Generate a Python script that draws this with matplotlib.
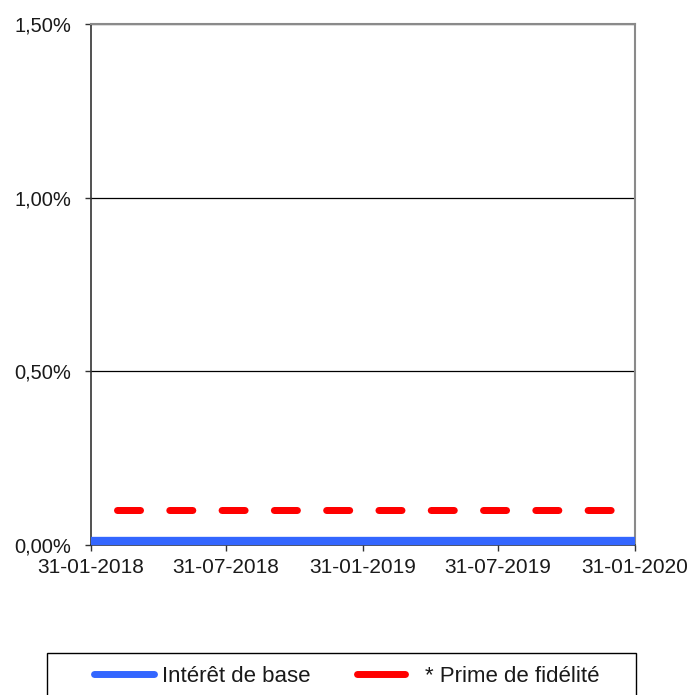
import matplotlib
matplotlib.use("Agg")
import matplotlib.pyplot as plt
import matplotlib.dates as mdates
from matplotlib.ticker import FuncFormatter
from matplotlib.lines import Line2D
from matplotlib.patches import Rectangle
import datetime as dt

plt.rcParams['font.family'] = ['Liberation Sans', 'DejaVu Sans']

base_dates = [dt.date(2018, 1, 31), dt.date(2020, 1, 31)]
base_values = [0.01, 0.01]
prime_dates = [dt.date(2018, 3, 7), dt.date(2019, 12, 31)]
prime_values = [0.10, 0.10]
xticks = [dt.date(2018, 1, 31), dt.date(2018, 7, 31), dt.date(2019, 1, 31),
          dt.date(2019, 7, 31), dt.date(2020, 1, 31)]
yticks = [0.0, 0.5, 1.0, 1.5]
series_names = ["Intérêt de base", "* Prime de fidélité"]
colors = ['#3366FF', '#FF0000']

fig = plt.figure(figsize=(6.9, 6.95), dpi=100)
ax = fig.add_axes([0.1314, 0.2163, 0.7888, 0.7492])

ax.plot(base_dates, base_values, color=colors[0], lw=6.0, solid_capstyle='butt',
        clip_on=False, zorder=3)
ax.plot(prime_dates, prime_values, color=colors[1], lw=5.04, dash_capstyle='round',
        dashes=(3.29, 4.18), zorder=3)

ax.set_xlim(xticks[0], xticks[-1])
ax.set_ylim(0, 1.5)
ax.set_xticks(xticks)
ax.xaxis.set_major_formatter(mdates.DateFormatter('%d-%m-%Y'))
ax.set_yticks(yticks)
ax.yaxis.set_major_formatter(FuncFormatter(lambda v, p: f"{v:.2f}%".replace('.', ',')))
ax.grid(axis='y', color='black', lw=0.9)
ax.set_axisbelow(True)
for s in ['top', 'right']:
    ax.spines[s].set_color('#8a8a8a')
    ax.spines[s].set_linewidth(1.5)
for s in ['left', 'bottom']:
    ax.spines[s].set_color('#333333')
    ax.spines[s].set_linewidth(1.2)
ax.tick_params(axis='both', direction='out', length=4.3, width=1.0, color='#333333')
ax.tick_params(axis='y', labelsize=14.5, pad=9.7)
ax.tick_params(axis='x', labelsize=15, pad=5.5)
for lab in ax.get_xticklabels() + ax.get_yticklabels():
    lab.set_color('#1a1a1a')

# legend frame (extends below the figure edge)
fig.add_artist(Rectangle((47 / 690, -0.05), (636 - 47) / 690, 0.05 + 1 - 653.3 / 695,
                         transform=fig.transFigure, fill=False, edgecolor='black', lw=1.0))

handles = [Line2D([], [], color=colors[0], lw=5.0, solid_capstyle='round'),
           Line2D([], [], color=colors[1], lw=5.0, solid_capstyle='round')]
leg1 = fig.legend([handles[0]], [series_names[0]], loc='center left',
                  bbox_to_anchor=(93.5 / 690, 1 - 676.5 / 695), frameon=False,
                  fontsize=16, handlelength=2.7, handletextpad=0.4,
                  borderpad=0, borderaxespad=0)
leg2 = fig.legend([handles[1]], [series_names[1]], loc='center left',
                  bbox_to_anchor=(356.5 / 690, 1 - 676.5 / 695), frameon=False,
                  fontsize=16, handlelength=2.16, handletextpad=0.9,
                  borderpad=0, borderaxespad=0)
for t in leg1.get_texts() + leg2.get_texts():
    t.set_color('#1a1a1a')

fig.savefig('out.png', dpi=100)
